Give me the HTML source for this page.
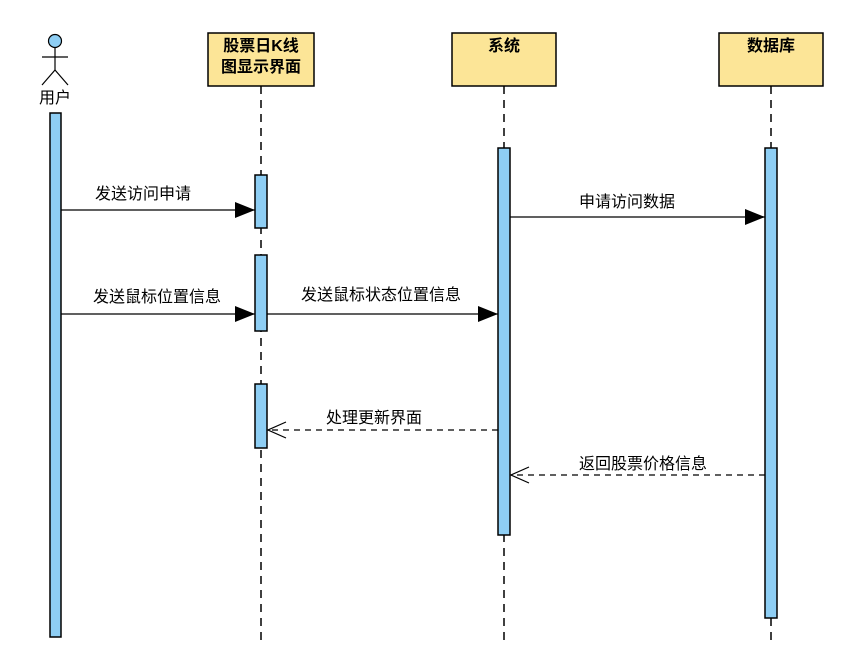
<!DOCTYPE html>
<html><head><meta charset="utf-8"><style>
html,body{margin:0;padding:0;background:#fff;}
svg{display:block;}
text{font-family:"Liberation Sans","Noto Sans CJK SC",sans-serif;}
</style></head><body>
<svg width="864" height="664" viewBox="0 0 864 664" xmlns="http://www.w3.org/2000/svg">
<defs>
<marker id="fa" markerWidth="20" markerHeight="16" refX="20" refY="8" orient="auto" markerUnits="userSpaceOnUse"><path d="M0,0 L20,8 L0,16 Z" fill="#000"/></marker>
<marker id="oa" markerWidth="20" markerHeight="18" refX="19" refY="9" orient="auto" markerUnits="userSpaceOnUse"><path d="M1,1 L19,9 L1,17" fill="none" stroke="#000" stroke-width="1.2"/></marker>
</defs>
<g stroke="#000" stroke-width="1.5" stroke-dasharray="8,6" fill="none">
<line x1="261" y1="86" x2="261" y2="640"/>
<line x1="504" y1="86" x2="504" y2="640"/>
<line x1="771" y1="86" x2="771" y2="640"/>
</g>
<circle cx="55" cy="41" r="6.5" fill="#8ECEF4" stroke="#000" stroke-width="1.2"/>
<g stroke="#000" stroke-width="1.2"><line x1="55" y1="47.5" x2="55" y2="70"/><line x1="42" y1="57" x2="68" y2="57"/><line x1="55" y1="70" x2="42" y2="85"/><line x1="55" y1="70" x2="68" y2="85"/></g>
<text x="55" y="103" font-size="16" text-anchor="middle">用户</text>
<g fill="#FCE597" stroke="#000" stroke-width="1.5">
<rect x="208" y="33" width="106" height="53"/>
<rect x="452" y="33" width="104" height="53"/>
<rect x="719" y="33" width="104" height="53"/>
</g>
<g font-size="16" font-weight="bold" text-anchor="middle">
<text x="261" y="51">股票日K线</text>
<text x="261" y="72">图显示界面</text>
<text x="504" y="51">系统</text>
<text x="771" y="51">数据库</text>
</g>
<g fill="#8ECEF4" stroke="#000" stroke-width="1.5">
<rect x="50" y="113" width="11" height="524"/>
<rect x="255" y="175" width="12" height="53"/>
<rect x="255" y="255" width="12" height="76"/>
<rect x="255" y="384" width="12" height="64"/>
<rect x="498" y="148" width="12" height="387"/>
<rect x="765" y="148" width="12" height="470"/>
</g>
<g stroke="#000" stroke-width="1.2">
<line x1="61" y1="210" x2="255" y2="210" marker-end="url(#fa)"/>
<line x1="510" y1="217" x2="765" y2="217" marker-end="url(#fa)"/>
<line x1="61" y1="314" x2="255" y2="314" marker-end="url(#fa)"/>
<line x1="267" y1="314" x2="498" y2="314" marker-end="url(#fa)"/>
<line x1="498" y1="430" x2="268" y2="430" stroke-dasharray="6,5" marker-end="url(#oa)"/>
<line x1="765" y1="475" x2="511" y2="475" stroke-dasharray="6,5" marker-end="url(#oa)"/>
</g>
<g font-size="16" text-anchor="middle">
<text x="143" y="199">发送访问申请</text>
<text x="627" y="207">申请访问数据</text>
<text x="157" y="302">发送鼠标位置信息</text>
<text x="381" y="300">发送鼠标状态位置信息</text>
<text x="374" y="423">处理更新界面</text>
<text x="643" y="469">返回股票价格信息</text>
</g>
</svg>
</body></html>
